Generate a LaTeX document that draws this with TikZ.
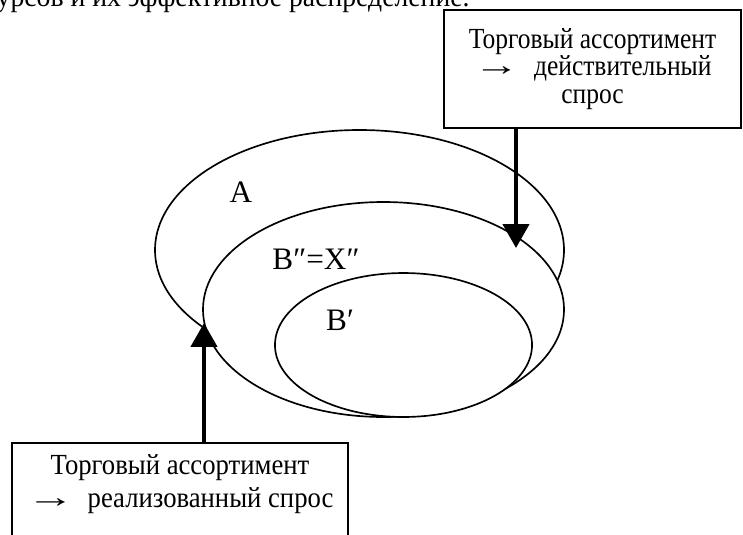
\documentclass[tikz,border=0pt]{standalone}
\usepackage{fontspec}
\setmainfont{Liberation Serif}
\newfontfamily\bodyserif[FakeStretch=0.95]{Liberation Serif}
\newfontfamily\topserif[FakeStretch=0.875]{Liberation Serif}
\newfontfamily\lowserif[FakeStretch=0.915]{Liberation Serif}
\newcommand{\thinarrow}{\scalebox{1.8}[1.05]{→}}
\usetikzlibrary{shapes.geometric, arrows.meta, positioning}
\tikzset{
    setoval/.style={ellipse, draw=black, line width=0.8pt, fill=white, inner sep=0pt},
    setlbl/.style={font=\fontsize{15}{17}\selectfont, inner sep=0pt},
    notebox/.style={rectangle, draw=black, line width=1pt, fill=white,
                    align=center, inner sep=0pt},
    arrow/.style={-{Triangle[width=12.5pt, length=11.5pt]}, line width=2pt, draw=black},
}

\begin{document}
\begin{tikzpicture}[x=0.48pt, y=-0.48pt]
    \useasboundingbox (0,0) rectangle (743,534);
    \clip (0,0) rectangle (743,534);
    \node[anchor=base east, inner sep=0pt, font=\bodyserif\fontsize{14}{16}\selectfont] (prevline) at (470,7)
        {урсов и их эффективное распределение.};
    % nested sets
    \node[setoval, minimum width=196.3pt, minimum height=115.2pt] (setA) at (359.5,250) {};
    \node[setoval, minimum width=173.3pt, minimum height=103.2pt] (setB2) at (383.5,309.5) {};
    \node[setoval, minimum width=123.4pt, minimum height=69.1pt] (setB1) at (403.5,345) {};
    \node[setlbl] (lblA) at (241,192) {A};
    \node[setlbl] (lblB2) at (316,259) {B″=X″};
    \node[setlbl] (lblB1) at (340,320) {B′};
    % notes
    \node[notebox, minimum width=142.6pt, minimum height=56.6pt,
          font=\topserif\fontsize{14}{13.2}\selectfont] (actual) at (592.5,69)
        {Торговый ассортимент\\ \thinarrow\hspace{0.5em}действительный\\ спрос};
    \node[notebox, anchor=north, minimum width=161.3pt, minimum height=56.6pt,
          font=\lowserif\fontsize{14}{15.8}\selectfont] (realized) at (180,442)
        {Торговый ассортимент\\ \thinarrow\hspace{0.45em}реализованный спрос\\ \strut};
    \coordinate (actualtip) at (516,248);
    \coordinate (realizedtip) at (204,323);
    \draw[arrow] (actual.south -| actualtip) -- (actualtip);
    \draw[arrow] (realized.north -| realizedtip) -- (realizedtip);
\end{tikzpicture}
\end{document}
